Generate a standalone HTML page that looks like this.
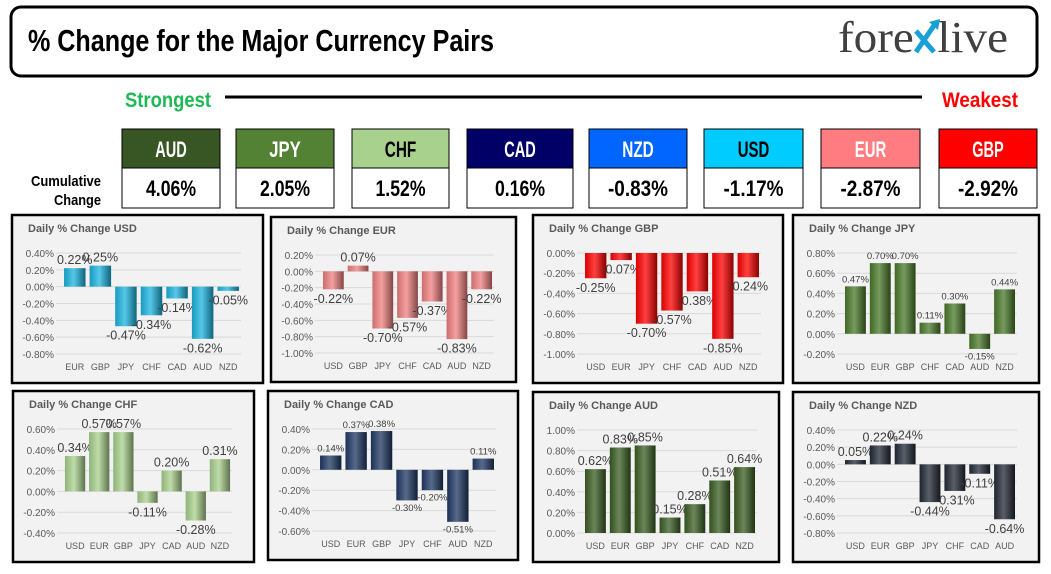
<!DOCTYPE html>
<html><head><meta charset="utf-8">
<style>
html,body{margin:0;padding:0;background:#fff;width:1051px;height:574px;overflow:hidden}
svg{display:block}
.cond{font-family:"Liberation Sans Narrow","Liberation Sans",sans-serif;font-weight:bold}
</style></head>
<body>
<svg id="root" width="1051" height="574" viewBox="0 0 1051 574" xmlns="http://www.w3.org/2000/svg">
<defs id="defs"></defs>
<rect x="11" y="7" width="1026" height="69" rx="10" fill="#fff" stroke="#000" stroke-width="3"/>
<text x="28" y="51" class="cond" font-size="31" fill="#000" textLength="466" lengthAdjust="spacingAndGlyphs">% Change for the Major Currency Pairs</text>
<g>
<text x="838" y="52" font-family="'Liberation Serif',serif" font-size="44" fill="#404040" textLength="170" lengthAdjust="spacingAndGlyphs">fore<tspan fill="#fff">x</tspan>live</text>
<path d="M916 31 L934 52 M916 52 L935 24" stroke="#1a9fd6" stroke-width="5" fill="none"/>
<path d="M929 22 L940 19 L938 30 Z" fill="#1a9fd6"/>
</g>
<text x="125" y="107" class="cond" font-size="21" fill="#1db954" textLength="86" lengthAdjust="spacingAndGlyphs">Strongest</text>
<line x1="225" y1="97" x2="922" y2="97" stroke="#000" stroke-width="3"/>
<text x="942" y="107" class="cond" font-size="21" fill="#ff0000" textLength="76" lengthAdjust="spacingAndGlyphs">Weakest</text>
<text x="101" y="186" class="cond" font-size="15" text-anchor="end" fill="#000" textLength="70" lengthAdjust="spacingAndGlyphs">Cumulative</text>
<text x="101" y="205" class="cond" font-size="15" text-anchor="end" fill="#000" textLength="47" lengthAdjust="spacingAndGlyphs">Change</text>
<g id="boxes"></g>
<g id="panels"></g>
</svg>
<script>
const NS='http://www.w3.org/2000/svg';
const rankCurrencies=['AUD','JPY','CHF','CAD','NZD','USD','EUR','GBP'];
const rankValues=['4.06%','2.05%','1.52%','0.16%','-0.83%','-1.17%','-2.87%','-2.92%'];
const boxX=[122,236,352,467,589,704,821,939];
const boxW=[98,98,97,106,98,99,99,98];
const boxColors=['#375623','#548235','#a9d18e','#000066','#0066ff','#00ccff','#ff7c80','#ff0000'];
const boxTextColors=['#fff','#fff','#000','#fff','#fff','#000','#fff','#fff'];

const cats={
USD:['EUR','GBP','JPY','CHF','CAD','AUD','NZD'],
EUR:['USD','GBP','JPY','CHF','CAD','AUD','NZD'],
GBP:['USD','EUR','JPY','CHF','CAD','AUD','NZD'],
JPY:['USD','EUR','GBP','CHF','CAD','AUD','NZD'],
CHF:['USD','EUR','GBP','JPY','CAD','AUD','NZD'],
CAD:['USD','EUR','GBP','JPY','CHF','AUD','NZD'],
AUD:['USD','EUR','GBP','JPY','CHF','CAD','NZD'],
NZD:['USD','EUR','GBP','JPY','CHF','CAD','AUD']};
const usdValues=[0.22,0.25,-0.47,-0.34,-0.14,-0.62,-0.05];
const eurValues=[-0.22,0.07,-0.70,-0.57,-0.37,-0.83,-0.22];
const gbpValues=[-0.25,-0.07,-0.70,-0.57,-0.38,-0.85,-0.24];
const jpyValues=[0.47,0.70,0.70,0.11,0.30,-0.15,0.44];
const chfValues=[0.34,0.57,0.57,-0.11,0.20,-0.28,0.31];
const cadValues=[0.14,0.37,0.38,-0.30,-0.20,-0.51,0.11];
const audValues=[0.62,0.83,0.85,0.15,0.28,0.51,0.64];
const nzdValues=[0.05,0.22,0.24,-0.44,-0.31,-0.11,-0.64];
const usdTicks=[-0.8,-0.6,-0.4,-0.2,0,0.2,0.4];
const eurTicks=[-1.0,-0.8,-0.6,-0.4,-0.2,0,0.2];
const gbpTicks=[-1.0,-0.8,-0.6,-0.4,-0.2,0];
const jpyTicks=[-0.2,0,0.2,0.4,0.6,0.8];
const chfTicks=[-0.4,-0.2,0,0.2,0.4,0.6];
const cadTicks=[-0.6,-0.4,-0.2,0,0.2,0.4];
const audTicks=[0,0.2,0.4,0.6,0.8,1.0];
const nzdTicks=[-0.8,-0.6,-0.4,-0.2,0,0.2,0.4];

const panels=[
{cur:'USD',vals:usdValues,ticks:usdTicks,box:[12,215,251,168],col:'#1cb5e0',small:false},
{cur:'EUR',vals:eurValues,ticks:eurTicks,box:[271,217,245,165],col:'#f08080',small:false},
{cur:'GBP',vals:gbpValues,ticks:gbpTicks,box:[533,215,250,168],col:'#ff0000',small:false},
{cur:'JPY',vals:jpyValues,ticks:jpyTicks,box:[793,215,246,168],col:'#4a7a2a',small:true},
{cur:'CHF',vals:chfValues,ticks:chfTicks,box:[13,391,241,171],col:'#a9d18e',small:false},
{cur:'CAD',vals:cadValues,ticks:cadTicks,box:[268,391,250,169],col:'#1f3864',small:true},
{cur:'AUD',vals:audValues,ticks:audTicks,box:[533,392,246,170],col:'#3b5e23',small:false},
{cur:'NZD',vals:nzdValues,ticks:nzdTicks,box:[793,392,246,170],col:'#222a35',small:false}];

function mk(tag,attrs,parent){const e=document.createElementNS(NS,tag);for(const k in attrs)e.setAttribute(k,attrs[k]);if(parent)parent.appendChild(e);return e;}
const boxes=document.getElementById('boxes');
rankCurrencies.forEach((c,i)=>{
  const g=mk('g',{},boxes);
  
  
  mk('rect',{x:boxX[i],y:129,width:boxW[i],height:39,fill:boxColors[i],stroke:'#000','stroke-width':1},g);
  mk('rect',{x:boxX[i],y:168,width:boxW[i],height:40,fill:'#fff',stroke:'#000','stroke-width':1},g);
  const t=mk('text',{x:boxX[i]+boxW[i]/2,y:157,'text-anchor':'middle',class:'cond','font-size':22,fill:boxTextColors[i],textLength:c.length*10.5,lengthAdjust:'spacingAndGlyphs'},g);
  t.textContent=c;
  
  
  const v=mk('text',{x:boxX[i]+boxW[i]/2,y:196,'text-anchor':'middle',class:'cond','font-size':22,fill:'#000',textLength:rankValues[i].length*10,lengthAdjust:'spacingAndGlyphs'},g);
  v.textContent=rankValues[i];
  
  
});

function shade(hex,f){let n=parseInt(hex.slice(1),16);let r=n>>16,g=(n>>8)&255,b=n&255;
 const m=x=>Math.max(0,Math.min(255,Math.round(f>0?x+(255-x)*f:x*(1+f))));return 'rgb('+m(r)+','+m(g)+','+m(b)+')';}
const defs=document.getElementById('defs');
const pg=document.getElementById('panels');
panels.forEach(p=>{
  const [x,y,w,h]=p.box;
  const gid='grad-'+p.cur;
  const lg=mk('linearGradient',{id:gid,x1:0,y1:0,x2:1,y2:0},defs);
  mk('stop',{offset:'0','stop-color':shade(p.col,-0.15)},lg);
  mk('stop',{offset:'0.45','stop-color':shade(p.col,0.25)},lg);
  mk('stop',{offset:'1','stop-color':shade(p.col,-0.45)},lg);
  const g=mk('g',{},pg);
  
  
  mk('rect',{x:x,y:y,width:w,height:h,fill:'#f2f2f2',stroke:'#000','stroke-width':2.5},g);
  const tt=mk('text',{x:x+16,y:y+17,'font-family':"'Liberation Sans',sans-serif",'font-weight':'bold','font-size':11,fill:'#595959'},g);
  tt.textContent='Daily % Change '+p.cur;
  
  
  const top=y+38,bot=y+h-29,left=x+50,right=x+w-22;
  const tmin=p.ticks[0],tmax=p.ticks[p.ticks.length-1];
  const yS=v=>bot-(v-tmin)/(tmax-tmin)*(bot-top);
  const cs=cats[p.cur];const slot=(right-left)/cs.length;
  const xS=i=>left+slot*(i+0.5);
  p.ticks.forEach(t=>{
    mk('line',{x1:left-6,x2:right,y1:yS(t),y2:yS(t),stroke:'#d9d9d9','stroke-width':1},g);
    const tl=mk('text',{x:left-8,y:yS(t)+4,'text-anchor':'end','font-family':"'Liberation Sans',sans-serif",'font-size':10,fill:'#595959'},g);
    tl.textContent=t.toFixed(2)+'%';
    
    
  });
  p.vals.forEach((v,i)=>{
    const bw=slot*0.84;const y0=yS(0),y1=yS(v);
    const r=mk('rect',{x:xS(i)-bw/2,y:Math.min(y0,y1),width:bw,height:Math.max(1,Math.abs(y1-y0)),fill:'url(#'+gid+')'},g);
    
    
    const fs=p.small?9.5:12.5;
    const ly=v>=0?y1-4:y1+fs+1;
    const dl=mk('text',{x:xS(i),y:ly,'text-anchor':'middle','font-family':"'Liberation Sans',sans-serif",'font-size':fs,fill:'#404040'},g);
    dl.textContent=v.toFixed(2)+'%';
    
    
    const xl=mk('text',{x:xS(i),y:bot+16,'text-anchor':'middle','font-family':"'Liberation Sans',sans-serif",'font-size':9,fill:'#595959'},g);
    xl.textContent=cs[i];
    
    
  });
});
</script>
</body></html>
